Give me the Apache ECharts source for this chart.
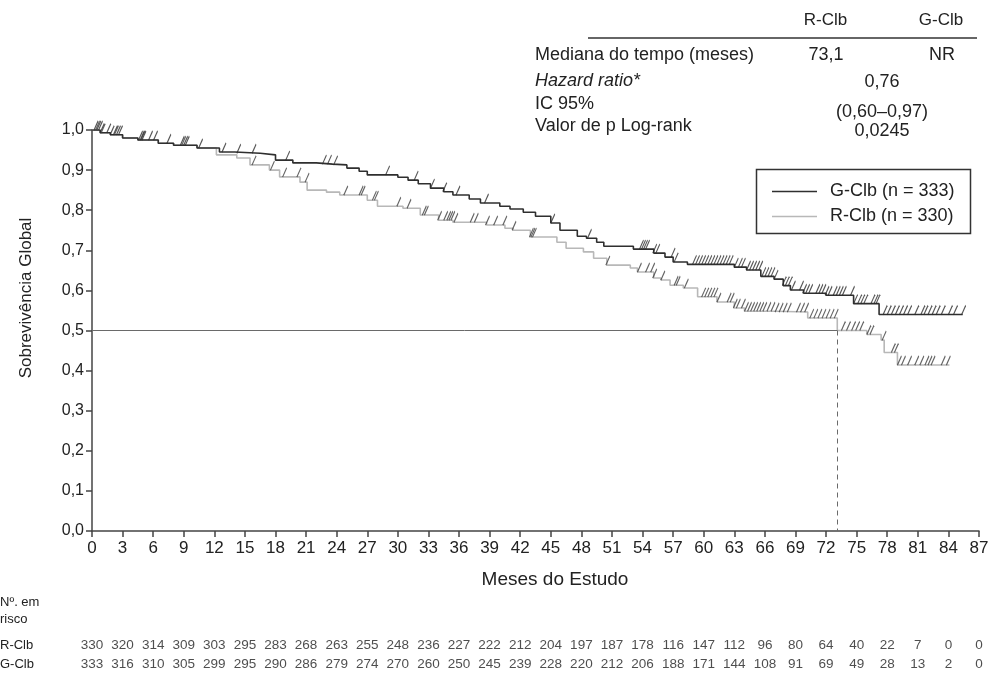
<!DOCTYPE html>
<html>
<head>
<meta charset="utf-8">
<script src="https://cdn.jsdelivr.net/npm/echarts@6/dist/echarts.min.js"></script>
<style>html,body{margin:0;padding:0;background:#fff}#c{width:993px;height:675px}</style>
</head>
<body>
<div id="c"></div>
<script>
// ---------- data ----------
const tickMonths = [0,3,6,9,12,15,18,21,24,27,30,33,36,39,42,45,48,51,54,57,60,63,66,69,72,75,78,81,84,87];
const riskR = [330,320,314,309,303,295,283,268,263,255,248,236,227,222,212,204,197,187,178,116,147,112,96,80,64,40,22,7,0,0];
const riskG = [333,316,310,305,299,295,290,286,279,274,270,260,250,245,239,228,220,212,206,188,171,144,108,91,69,49,28,13,2,0];

const gTime = [0,0.8,1.8,3,4.5,6.5,8,10.3,12.5,14,16.5,18,19.7,22,23.6,25,26.2,27,30,31,32,33.2,34.5,35.4,37,38.1,40,41,42.3,43.5,45,45.9,47.6,48.5,49.5,50.2,53.1,55.1,56.2,57,58.4,63,64.2,65.6,66.9,67.8,68.5,69.8,72,74.7,77.2,85.4];
const gSurv = [1,0.993,0.988,0.98,0.975,0.967,0.962,0.955,0.945,0.942,0.938,0.925,0.918,0.915,0.913,0.905,0.897,0.888,0.882,0.875,0.866,0.855,0.846,0.838,0.828,0.818,0.81,0.803,0.795,0.785,0.768,0.75,0.735,0.73,0.72,0.71,0.703,0.693,0.683,0.671,0.665,0.658,0.651,0.635,0.628,0.612,0.601,0.593,0.588,0.567,0.54,0.54];

const rTime = [0,0.8,1.8,3,4.5,6.5,8,10.3,12.2,14.2,15.5,17.4,18.4,20.4,21.1,23,24.3,27,28,30.5,32.2,34,35.4,38.7,40.5,41.3,43,45.6,46.5,48.2,49.2,50.5,52.8,53.5,55.1,55.8,56.7,58,59.4,61.3,63,64,67,70.2,73.1,76,77.4,77.7,79,84.1];
const rSurv = [1,0.993,0.988,0.98,0.975,0.967,0.962,0.955,0.938,0.93,0.913,0.9,0.883,0.87,0.85,0.845,0.838,0.825,0.81,0.805,0.788,0.775,0.77,0.763,0.755,0.75,0.733,0.72,0.705,0.696,0.68,0.663,0.656,0.646,0.631,0.626,0.613,0.606,0.584,0.571,0.556,0.548,0.546,0.531,0.5,0.49,0.476,0.445,0.414,0.414];

const gCensor = [0.3,0.57,0.74,0.9,1.55,1.88,2.2,2.5,2.7,4.67,4.83,5.0,5.65,6.14,7.45,8.76,9.09,9.25,10.56,12.85,14.3,15.8,19.1,22.7,23.2,23.8,28.9,31.7,33.3,34.5,35.8,38.6,45.1,48.7,53.8,54.0,54.2,54.4,55.1,55.4,56.9,57.2,
  59.0,59.3,59.6,59.9,60.2,60.5,60.8,61.1,61.4,61.7,62.0,62.3,62.6,63.1,63.5,63.8,64.3,64.6,64.9,65.2,65.5,65.8,66.1,66.4,66.7,67.0,67.8,68.1,68.4,68.7,69.5,69.8,70.1,70.4,71.1,71.4,71.7,72.0,72.3,72.8,73.1,73.4,73.7,74.5,74.8,75.2,75.5,75.8,76.5,76.8,77.0,
  77.7,78.1,78.5,78.9,79.3,79.7,80.1,80.8,81.4,81.7,82.1,82.5,82.9,83.4,84.1,84.6,85.4];
const rCensor = [0.45,1.0,2.3,4.9,8.9,15.8,17.6,18.8,20.2,21.0,24.8,26.3,26.5,27.6,27.8,30.0,31.0,32.5,32.7,34.0,34.6,34.9,35.1,35.3,35.6,37.2,37.6,38.7,39.5,40.4,41.3,43.0,43.15,43.3,50.5,53.6,54.4,54.9,55.1,55.9,57.2,57.4,58.2,
  59.9,60.2,60.5,60.8,61.1,61.4,62.4,62.7,63.0,63.3,63.8,64.1,64.4,64.7,65.0,65.3,65.6,65.9,66.3,66.7,67.1,67.5,67.9,68.3,69.2,69.6,70.0,70.5,70.9,71.3,71.7,72.1,72.5,72.9,73.6,74.1,74.6,75.0,75.4,76.1,76.4,77.6,78.5,78.8,79.1,79.5,80.1,80.8,81.3,81.8,82.1,82.4,83.4,83.9];

const medianR = 73.1;

// ---------- build ----------
const FONT = "'Liberation Sans', Arial, sans-serif";
const TXT = '#222';
function pairs(t, s){ return t.map((v,i)=>[v, s[i]]); }
function survAt(t, s, x){ let v = s[0]; for (let i=0;i<t.length;i++){ if (t[i] <= x) v = s[i]; else break; } return v; }
const censorPath = 'path://M0,10L4,0';

const chart = echarts.init(document.getElementById('c'), null, {renderer:'canvas'});
const option = {
  animation: false,
  grid: [
    {left: 92, right: 14, top: 130, bottom: 144},
    {left: 92, right: 14, top: 635.5, height: 38}
  ],
  xAxis: [
    {gridIndex:0, type:'value', min:0, max:87, interval:3,
     axisLine:{show:true, onZero:false, lineStyle:{color:'#444', width:1.5}},
     axisTick:{show:true, length:6, lineStyle:{color:'#444', width:1.5}},
     axisLabel:{margin:9, color:TXT, fontSize:17, fontFamily:FONT},
     splitLine:{show:false}},
    {gridIndex:1, type:'value', min:0, max:87, show:false}
  ],
  yAxis: [
    {gridIndex:0, type:'value', min:0, max:1, interval:0.1,
     axisLine:{show:true, lineStyle:{color:'#444', width:1.5}},
     axisTick:{show:true, length:6, lineStyle:{color:'#444', width:1.5}},
     axisLabel:{margin:8, color:TXT, fontSize:16, fontFamily:FONT, formatter: v => v.toFixed(1).replace('.',',')},
     splitLine:{show:false}},
    {gridIndex:1, type:'category', data:['R-Clb','G-Clb'], inverse:true, show:false}
  ],
  series: [
    {name:'R-Clb', type:'line', step:'end', data: pairs(rTime, rSurv), symbol:'none',
     lineStyle:{color:'#b8b8b8', width:1.6}, z:2, silent:true,
     markLine:{symbol:'none', silent:true, label:{show:false},
       data:[
         [{coord:[0,0.5], lineStyle:{color:'#6a6a6a', width:1, type:'solid'}}, {coord:[medianR,0.5]}],
         [{coord:[medianR,0.5], lineStyle:{color:'#6a6a6a', width:1, type:[5,4]}}, {coord:[medianR,0]}]
       ]}},
    {name:'G-Clb', type:'line', step:'end', data: pairs(gTime, gSurv), symbol:'none',
     lineStyle:{color:'#2f2f2f', width:1.6}, z:3, silent:true},
    {name:'R-Clb censor', type:'scatter', data: rCensor.map(t=>[t, survAt(rTime,rSurv,t)]),
     symbol:censorPath, symbolSize:[4,9], symbolOffset:[1,-4.5],
     itemStyle:{color:'transparent', borderColor:'#3c3c3c', borderWidth:1.3}, z:4, silent:true},
    {name:'G-Clb censor', type:'scatter', data: gCensor.map(t=>[t, survAt(gTime,gSurv,t)]),
     symbol:censorPath, symbolSize:[4,9], symbolOffset:[1,-4.5],
     itemStyle:{color:'transparent', borderColor:'#2a2a2a', borderWidth:1.3}, z:5, silent:true},
    {name:'risk R', type:'scatter', xAxisIndex:1, yAxisIndex:1, symbolSize:0, silent:true,
     data: tickMonths.map((m,i)=>[m,'R-Clb',riskR[i]]),
     label:{show:true, position:'inside', formatter: p => String(p.value[2]), color:TXT, fontSize:13.5, fontFamily:FONT}},
    {name:'risk G', type:'scatter', xAxisIndex:1, yAxisIndex:1, symbolSize:0, silent:true,
     data: tickMonths.map((m,i)=>[m,'G-Clb',riskG[i]]),
     label:{show:true, position:'inside', formatter: p => String(p.value[2]), color:TXT, fontSize:13.5, fontFamily:FONT}}
  ],
  graphic: [
    // statistics table
    {type:'text', x:825.5, y:20, style:{text:'R-Clb', fill:TXT, fontSize:17, fontFamily:FONT, align:'center', verticalAlign:'middle'}},
    {type:'text', x:941, y:20, style:{text:'G-Clb', fill:TXT, fontSize:17, fontFamily:FONT, align:'center', verticalAlign:'middle'}},
    {type:'line', shape:{x1:588, y1:38, x2:977, y2:38}, style:{stroke:'#333', lineWidth:1.5}},
    {type:'text', x:535, y:55, style:{text:'Mediana do tempo (meses)', fill:TXT, fontSize:18, fontFamily:FONT, align:'left', verticalAlign:'middle'}},
    {type:'text', x:826, y:55, style:{text:'73,1', fill:TXT, fontSize:18, fontFamily:FONT, align:'center', verticalAlign:'middle'}},
    {type:'text', x:942, y:55, style:{text:'NR', fill:TXT, fontSize:18, fontFamily:FONT, align:'center', verticalAlign:'middle'}},
    {type:'text', x:535, y:81, style:{text:'Hazard ratio*', fill:TXT, fontSize:18, fontStyle:'italic', fontFamily:FONT, align:'left', verticalAlign:'middle'}},
    {type:'text', x:882, y:82, style:{text:'0,76', fill:TXT, fontSize:18, fontFamily:FONT, align:'center', verticalAlign:'middle'}},
    {type:'text', x:535, y:104, style:{text:'IC 95%', fill:TXT, fontSize:18, fontFamily:FONT, align:'left', verticalAlign:'middle'}},
    {type:'text', x:882, y:112, style:{text:'(0,60–0,97)', fill:TXT, fontSize:18, fontFamily:FONT, align:'center', verticalAlign:'middle'}},
    {type:'text', x:535, y:126, style:{text:'Valor de p Log-rank', fill:TXT, fontSize:18, fontFamily:FONT, align:'left', verticalAlign:'middle'}},
    {type:'text', x:882, y:131, style:{text:'0,0245', fill:TXT, fontSize:18, fontFamily:FONT, align:'center', verticalAlign:'middle'}},
    // legend
    {type:'rect', shape:{x:756.5, y:169.5, width:214, height:64}, style:{fill:'#fff', stroke:'#333', lineWidth:1.5}, z:10},
    {type:'line', shape:{x1:772, y1:191.5, x2:817, y2:191.5}, style:{stroke:'#2f2f2f', lineWidth:1.6}, z:11},
    {type:'line', shape:{x1:772, y1:216.5, x2:817, y2:216.5}, style:{stroke:'#b8b8b8', lineWidth:1.6}, z:11},
    {type:'text', x:830, y:191, style:{text:'G-Clb (n = 333)', fill:TXT, fontSize:18, fontFamily:FONT, align:'left', verticalAlign:'middle'}, z:11},
    {type:'text', x:830, y:216, style:{text:'R-Clb (n = 330)', fill:TXT, fontSize:18, fontFamily:FONT, align:'left', verticalAlign:'middle'}, z:11},
    // axis titles
    {type:'text', x:26, y:298, rotation:Math.PI/2, style:{text:'Sobrevivência Global', fill:TXT, fontSize:17, fontFamily:FONT, align:'center', verticalAlign:'middle'}},
    {type:'text', x:555, y:580, style:{text:'Meses do Estudo', fill:TXT, fontSize:19, fontFamily:FONT, align:'center', verticalAlign:'middle'}},
    // risk table labels
    {type:'text', x:0, y:602, style:{text:'Nº. em', fill:TXT, fontSize:13, fontFamily:FONT, align:'left', verticalAlign:'middle'}},
    {type:'text', x:0, y:619, style:{text:'risco', fill:TXT, fontSize:13, fontFamily:FONT, align:'left', verticalAlign:'middle'}},
    {type:'text', x:0, y:645, style:{text:'R-Clb', fill:TXT, fontSize:13, fontFamily:FONT, align:'left', verticalAlign:'middle'}},
    {type:'text', x:0, y:664, style:{text:'G-Clb', fill:TXT, fontSize:13, fontFamily:FONT, align:'left', verticalAlign:'middle'}}
  ]
};
chart.setOption(option);
</script>
</body>
</html>
